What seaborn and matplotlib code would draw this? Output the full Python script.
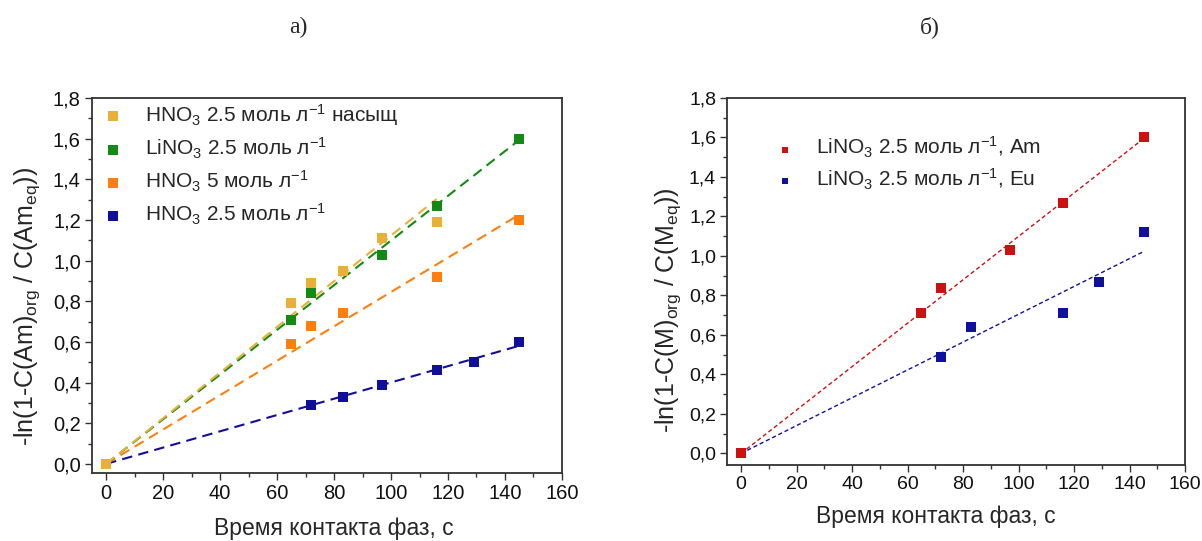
import matplotlib
matplotlib.use("Agg")
import matplotlib.pyplot as plt
import numpy as np
import seaborn as sns
from matplotlib.ticker import MultipleLocator

# data
hno3_sat_x = [0, 65, 72, 83, 97, 116]
hno3_sat_y = [0.0, 0.79, 0.89, 0.95, 1.11, 1.19]

lino3_x = [0, 65, 72, 97, 116, 145]
lino3_y = [0.0, 0.71, 0.84, 1.03, 1.27, 1.60]

hno3_5_x = [0, 65, 72, 83, 116, 145]
hno3_5_y = [0.0, 0.59, 0.68, 0.74, 0.92, 1.20]

hno3_25_x = [0, 72, 83, 97, 116, 129, 145]
hno3_25_y = [0.0, 0.29, 0.33, 0.39, 0.46, 0.50, 0.60]

am_x = [0, 65, 72, 97, 116, 145]
am_y = [0.0, 0.71, 0.84, 1.03, 1.27, 1.60]

eu_x = [0, 72, 83, 116, 129, 145]
eu_y = [0.0, 0.49, 0.64, 0.71, 0.87, 1.12]

x_ticks = [0, 20, 40, 60, 80, 100, 120, 140, 160]
y_ticks = [0.0, 0.2, 0.4, 0.6, 0.8, 1.0, 1.2, 1.4, 1.6, 1.8]
y_tick_labels = ["0,0", "0,2", "0,4", "0,6", "0,8", "1,0", "1,2", "1,4", "1,6", "1,8"]

sns.set_theme(style="white")
plt.rcParams['font.family'] = ['Liberation Sans', 'DejaVu Sans']
plt.rcParams['mathtext.fontset'] = 'custom'
plt.rcParams['mathtext.rm'] = 'Liberation Sans'
plt.rcParams['mathtext.it'] = 'Liberation Sans:italic'
plt.rcParams['mathtext.bf'] = 'Liberation Sans:bold'


def fit_line(x, y):
    # straight line through the origin, least squares
    x = np.array(x, dtype=float)
    y = np.array(y, dtype=float)
    k = np.sum(x * y) / np.sum(x * x)
    xs = np.array([0.0, x.max()])
    return xs, k * xs


def style_axes(ax, ylim_low, tick_size):
    ax.set_xlim(-5, 160)
    ax.set_ylim(ylim_low, 1.8)
    ax.set_xticks(x_ticks)
    ax.set_yticks(y_ticks)
    ax.set_yticklabels(y_tick_labels)
    ax.xaxis.set_minor_locator(MultipleLocator(10))
    ax.yaxis.set_minor_locator(MultipleLocator(0.1))
    ax.tick_params(axis='both', which='major', direction='out', length=5, width=1,
                   labelsize=tick_size, color='#333333', labelcolor='#111111', pad=3,
                   bottom=True, left=True, top=False, right=False)
    ax.tick_params(axis='both', which='minor', direction='out', length=3, width=1,
                   color='#333333', bottom=True, left=True, top=False, right=False)
    for sp in ax.spines.values():
        sp.set_color('#333333')
        sp.set_linewidth(1.3)


fig = plt.figure(figsize=(12.02, 5.41), dpi=100)
ax1 = fig.add_axes([0.0765, 0.1257, 0.391, 0.693])
ax2 = fig.add_axes([0.605, 0.14, 0.381, 0.679])

left_series = [
    (hno3_sat_x, hno3_sat_y, '#E8B036', r'HNO$_3$ 2.5 моль л$^{-1}$ насыщ'),
    (lino3_x, lino3_y, '#138A13', r'LiNO$_3$ 2.5 моль л$^{-1}$'),
    (hno3_5_x, hno3_5_y, '#FF7F0E', r'HNO$_3$ 5 моль л$^{-1}$'),
    (hno3_25_x, hno3_25_y, '#0F0F9C', r'HNO$_3$ 2.5 моль л$^{-1}$'),
]

# fit lines first, points on top
for x, y, c, lab in left_series[::-1]:
    lx, ly = fit_line(x, y)
    sns.lineplot(x=lx, y=ly, ax=ax1, color=c, linewidth=1.5, legend=False)
    ax1.lines[-1].set_dashes([5, 3])
for x, y, c, lab in left_series[::-1]:
    sns.scatterplot(x=x, y=y, ax=ax1, color=c, marker='s', s=60, linewidth=0, label=lab, zorder=3)

h, l = ax1.get_legend_handles_labels()
ax1.legend(h[::-1], l[::-1], loc='upper left', frameon=False, fontsize=15,
           handletextpad=0.9, labelspacing=0.38, borderaxespad=0.0,
           bbox_to_anchor=(0.001, 1.012), markerscale=1.0, handlelength=1.2)
style_axes(ax1, -0.045, 14.5)
ax1.set_xlabel('Время контакта фаз, с', fontsize=16.5)
ax1.xaxis.set_label_coords(0.515, -0.117)
ax1.set_ylabel(r'-ln(1-C(Am)$_{\rm org}$ / C(Am$_{\rm eq}$))', fontsize=18)
ax1.yaxis.set_label_coords(-0.106, 0.443)

right_series = [
    (am_x, am_y, '#CC1111', r'LiNO$_3$ 2.5 моль л$^{-1}$, Am'),
    (eu_x, eu_y, '#0F0FA0', r'LiNO$_3$ 2.5 моль л$^{-1}$, Eu'),
]
for x, y, c, lab in right_series[::-1]:
    lx, ly = fit_line(x, y)
    sns.lineplot(x=lx, y=ly, ax=ax2, color=c, linewidth=1.0, legend=False)
    ax2.lines[-1].set_dashes([3, 2])
for x, y, c, lab in right_series[::-1]:
    sns.scatterplot(x=x, y=y, ax=ax2, color=c, marker='s', s=45, linewidth=0, label=lab, zorder=3)

h, l = ax2.get_legend_handles_labels()
ax2.legend(h[::-1], l[::-1], loc='upper left', frameon=False, fontsize=15,
           handletextpad=0.9, labelspacing=0.3, borderaxespad=0.0, markerscale=0.6,
           handlelength=1.2, bbox_to_anchor=(0.081, 0.921))
style_axes(ax2, -0.06, 14)
ax2.set_xlabel('Время контакта фаз, с', fontsize=16.5)
ax2.xaxis.set_label_coords(0.455, -0.108)
ax2.set_ylabel(r'-ln(1-C(M)$_{\rm org}$ / C(M$_{\rm eq}$))', fontsize=18)
ax2.yaxis.set_label_coords(-0.096, 0.423)

fig.text(298 / 1202, 1 - 27 / 541, 'а)', family='Liberation Serif', fontsize=17,
         ha='center', va='center')
fig.text(930 / 1202, 1 - 27 / 541, 'б)', family='Liberation Serif', fontsize=17,
         ha='center', va='center')

fig.savefig('out.png', dpi=100)
